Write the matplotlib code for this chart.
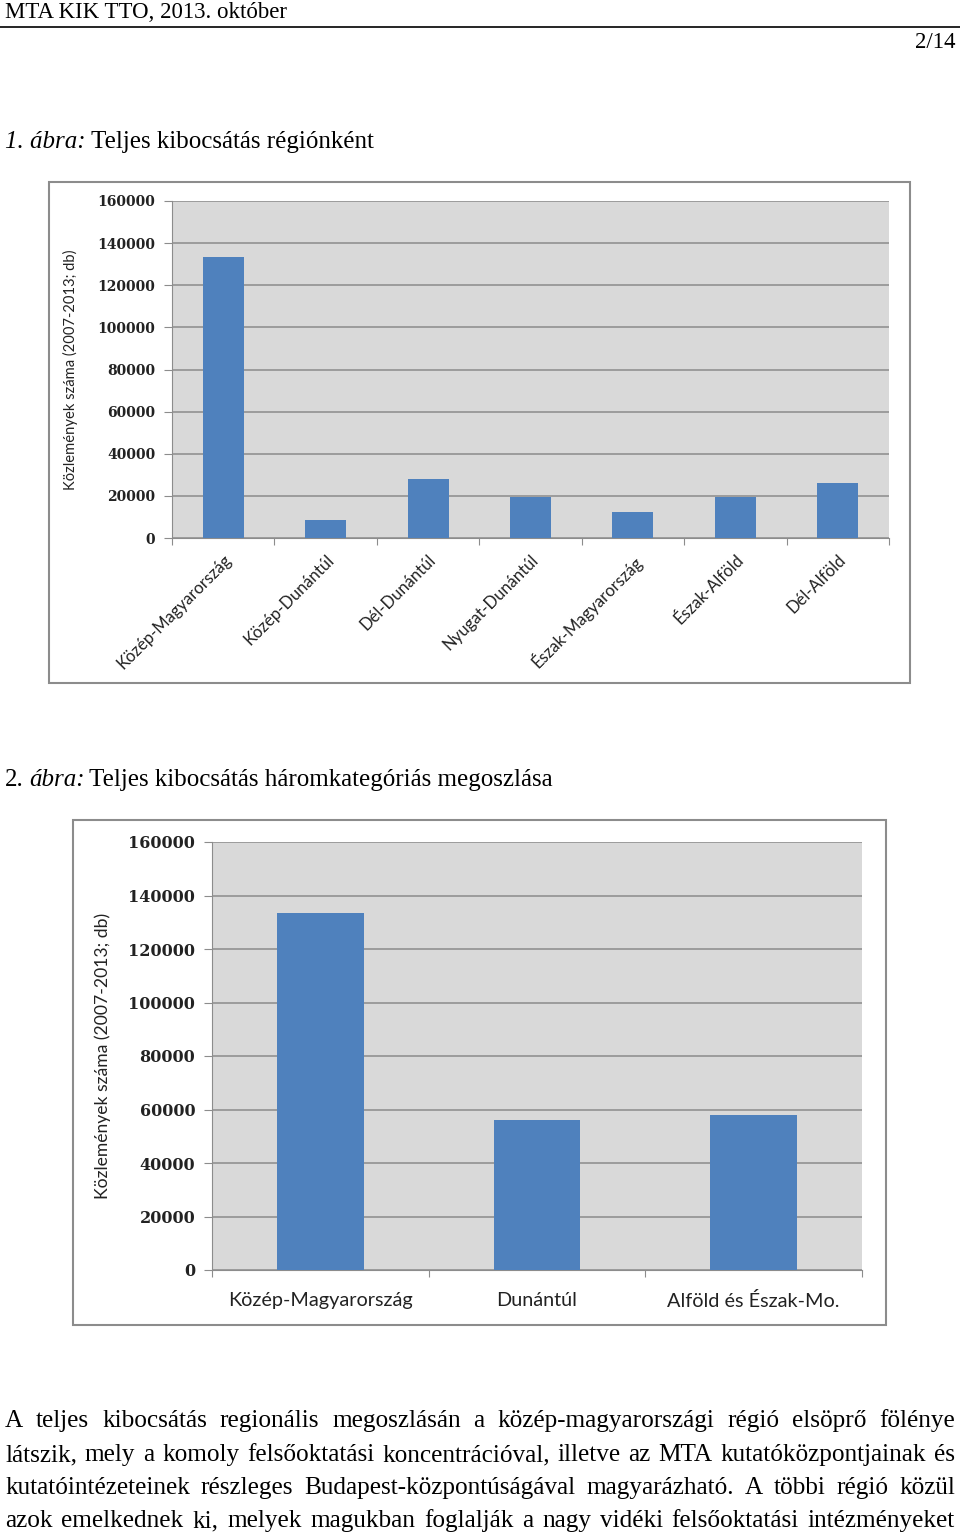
import matplotlib
matplotlib.use("Agg")
import matplotlib.pyplot as plt
from matplotlib.patches import Rectangle
from matplotlib.lines import Line2D

# Adatok
regiok = ["Közép-Magyarország", "Közép-Dunántúl", "Dél-Dunántúl", "Nyugat-Dunántúl",
          "Észak-Magyarország", "Észak-Alföld", "Dél-Alföld"]
kozlemenyek_regio = [133300, 8700, 28000, 19600, 12300, 19600, 25900]

kategoriak = ["Közép-Magyarország", "Dunántúl", "Alföld és Észak-Mo."]
kozlemenyek_kat = [133400, 56100, 57900]

y_ticks = [0, 20000, 40000, 60000, 80000, 100000, 120000, 140000, 160000]
y_label = "Közlemények száma (2007-2013; db)"

fejlec = "MTA KIK TTO, 2013. október"
oldal = "2/14"
szoveg = [
    "A teljes kibocsátás regionális megoszlásán a közép-magyarországi régió elsöprő fölénye",
    "látszik, mely a komoly felsőoktatási koncentrációval, illetve az MTA kutatóközpontjainak és",
    "kutatóintézeteinek részleges Budapest-központúságával magyarázható. A többi régió közül",
    "azok emelkednek ki, melyek magukban foglalják a nagy vidéki felsőoktatási intézményeket",
]

W, H = 960, 1537
BAR = "#4F81BD"
BG = "#D9D9D9"
GRID = "#8C8C8C"

fig = plt.figure(figsize=(W / 100, H / 100), dpi=100)


def px_rect(x0, y0, x1, y1):
    # pixel koordinatak -> figura koordinatak
    return [x0 / W, 1 - y1 / H, (x1 - x0) / W, (y1 - y0) / H]


def keret(x0, y0, x1, y1):
    fig.patches.append(Rectangle((x0 / W, 1 - y1 / H), (x1 - x0) / W, (y1 - y0) / H,
                                 transform=fig.transFigure, fill=False,
                                 edgecolor="#8C8C8C", linewidth=1.5))


def oszlop_diagram(ax, labels, values, ytick_size, ylabel_size, ylabel_x, rotated, xsize, xpad):
    n = len(labels)
    ax.set_facecolor(BG)
    ax.bar(range(n), values, width=0.4, color=BAR, zorder=3)
    ax.set_xlim(-0.5, n - 0.5)
    ax.set_ylim(0, 160000)
    ax.set_yticks(y_ticks)
    ax.set_yticklabels([str(v) for v in y_ticks], fontfamily="DejaVu Serif",
                       fontweight="bold", fontsize=ytick_size, color="#222222")
    ax.yaxis.grid(True, color=GRID, linewidth=1.1, zorder=1)
    ax.tick_params(axis="y", length=6, color=GRID, pad=6)
    # kategoriahatarokon a tickek
    ax.set_xticks([i - 0.5 for i in range(n + 1)])
    ax.set_xticklabels([])
    ax.tick_params(axis="x", which="major", length=5, color=GRID, direction="out")
    ax.set_xticks(range(n), minor=True)
    if rotated:
        ax.set_xticklabels(labels, minor=True, rotation=45, ha="right",
                           rotation_mode="anchor", fontfamily="Lato", fontsize=xsize,
                           color="#222222")
    else:
        ax.set_xticklabels(labels, minor=True, fontfamily="Lato", fontsize=xsize,
                           color="#222222")
    ax.tick_params(axis="x", which="minor", length=0, pad=xpad)
    for s in ["top", "right"]:
        ax.spines[s].set_visible(False)
    for s in ["left", "bottom"]:
        ax.spines[s].set_color(GRID)
    ax.set_ylabel(y_label, fontfamily="Lato", fontsize=ylabel_size, color="#222222")
    ax.yaxis.set_label_coords(ylabel_x, 0.5)


def sor_irasa(y, reszek, size):
    # egymas utan irt szovegreszek (normal / dolt)
    r = fig.canvas.get_renderer()
    x = 5
    for txt, stilus, koz in reszek:
        t = fig.text(x / W, 1 - y / H, txt, fontfamily="Liberation Serif",
                     fontstyle=stilus, fontsize=size, va="center", ha="left")
        fig.canvas.draw()
        x = t.get_window_extent(r).x1 + koz


# Fejlec
fig.text(5 / W, 1 - 13 / H, fejlec, fontfamily="Liberation Serif", fontsize=16.5,
         va="center", ha="left")
fig.add_artist(Line2D([0, 1], [1 - 27 / H, 1 - 27 / H], color="black", linewidth=1.2,
                      transform=fig.transFigure))
fig.text(955 / W, 1 - 42 / H, oldal, fontfamily="Liberation Serif", fontsize=16.5,
         va="center", ha="right")

# 1. abra
sor_irasa(142, [("1. ábra:", "italic", 5), ("Teljes kibocsátás régiónként", "normal", 0)], 18)
keret(49, 182, 910, 683)
ax1 = fig.add_axes(px_rect(172, 201, 889, 538))
oszlop_diagram(ax1, regiok, kozlemenyek_regio, 10, 10.6, -0.131, True, 12, 10)

# 2. abra
sor_irasa(780, [("2.", "normal", 5), ("ábra:", "italic", 5),
                ("Teljes kibocsátás háromkategóriás megoszlása", "normal", 0)], 18)
keret(73, 820, 886, 1325)
ax2 = fig.add_axes(px_rect(212, 842, 862, 1270))
oszlop_diagram(ax2, kategoriak, kozlemenyek_kat, 11.5, 12.6, -0.155, False, 14.3, 16)

# Sorkizart bekezdes
bal, jobb = 5, 955
sor_y = [1421, 1455, 1488, 1521]
r = fig.canvas.get_renderer()
for sor, y in zip(szoveg, sor_y):
    szavak = sor.split(" ")
    objs = [fig.text(0, 1 - y / H, w, fontfamily="Liberation Serif", fontsize=18.2,
                     va="center", ha="left") for w in szavak]
    fig.canvas.draw()
    szel = [o.get_window_extent(r).width for o in objs]
    hezag = (jobb - bal - sum(szel)) / (len(szavak) - 1)
    x = bal
    for o, w in zip(objs, szel):
        o.set_x(x / W)
        x += w + hezag

fig.savefig("out.png", dpi=100)
